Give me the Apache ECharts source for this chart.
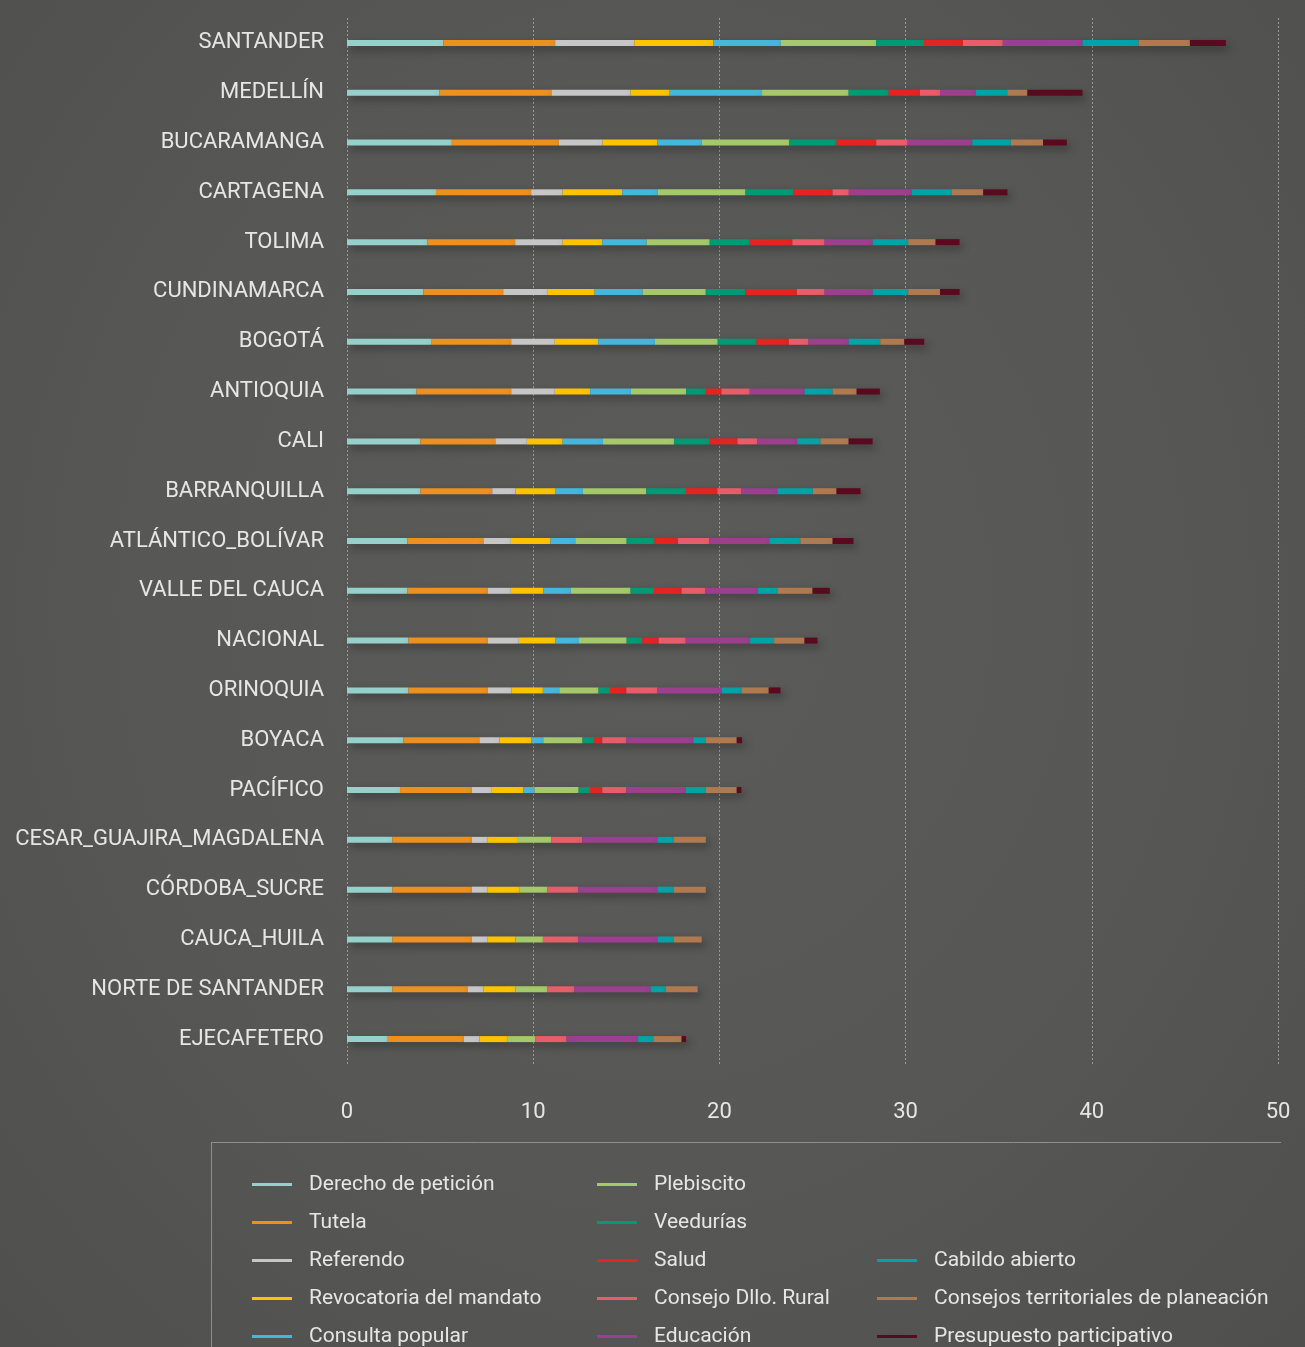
<!DOCTYPE html>
<html>
<head>
<meta charset="utf-8">
<script src="https://cdn.jsdelivr.net/npm/echarts@6/dist/echarts.min.js"></script>
<style>
html,body{margin:0;padding:0;}
body{background:radial-gradient(ellipse at 50% 45%, #5b5b5a 0%, #575756 55%, #4f4f4e 100%);}
#chart{width:1305px;height:1347px;}
</style>
</head>
<body>
<div id="chart"></div>
<script>
const categories = ["SANTANDER","MEDELLÍN","BUCARAMANGA","CARTAGENA","TOLIMA","CUNDINAMARCA","BOGOTÁ","ANTIOQUIA","CALI","BARRANQUILLA","ATLÁNTICO_BOLÍVAR","VALLE DEL CAUCA","NACIONAL","ORINOQUIA","BOYACA","PACÍFICO","CESAR_GUAJIRA_MAGDALENA","CÓRDOBA_SUCRE","CAUCA_HUILA","NORTE DE SANTANDER","EJECAFETERO"];

const seriesNames = ["Derecho de petición","Tutela","Referendo","Revocatoria del mandato","Consulta popular","Plebiscito","Veedurías","Salud","Consejo Dllo. Rural","Educación","Cabildo abierto","Consejos territoriales de planeación","Presupuesto participativo"];

const peticion    = [5.18,4.96,5.63,4.78,4.32,4.10,4.55,3.73,3.94,3.94,3.24,3.24,3.30,3.30,3.03,2.85,2.44,2.44,2.44,2.44,2.19];
const tutela      = [6.00,6.02,5.75,5.11,4.71,4.29,4.27,5.09,4.03,3.86,4.09,4.32,4.26,4.26,4.08,3.85,4.26,4.26,4.26,4.05,4.08];
const referendo   = [4.25,4.25,2.35,1.69,2.55,2.36,2.34,2.34,1.69,1.25,1.47,1.24,1.67,1.28,1.08,1.08,0.86,0.86,0.86,0.84,0.84];
const revocatoria = [4.25,2.10,2.94,3.20,2.13,2.55,2.33,1.90,1.92,2.15,2.13,1.74,1.97,1.68,1.72,1.70,1.62,1.72,1.49,1.72,1.49];
const consulta    = [3.62,4.96,2.38,1.90,2.38,2.58,3.05,2.19,2.17,1.47,1.33,1.48,1.26,0.88,0.63,0.59,0,0,0,0,0];
const plebiscito  = [5.12,4.65,4.70,4.72,3.39,3.39,3.37,2.96,3.81,3.39,2.76,3.21,2.56,2.11,2.11,2.37,1.79,1.47,1.47,1.70,1.52];
const veedurias   = [2.57,2.15,2.54,2.56,2.15,2.13,2.08,1.06,1.92,2.15,1.49,1.26,0.84,0.61,0.63,0.61,0,0,0,0,0];
const salud       = [2.09,1.68,2.13,2.12,2.29,2.76,1.74,0.84,1.49,1.68,1.27,1.48,0.88,0.88,0.43,0.66,0,0,0,0,0];
const rural       = [2.14,1.08,1.69,0.87,1.73,1.49,1.05,1.52,1.07,1.29,1.67,1.28,1.45,1.67,1.29,1.29,1.66,1.67,1.90,1.45,1.67];
const educacion   = [4.28,1.93,3.47,3.39,2.58,2.58,2.16,2.94,2.14,1.94,3.24,2.81,3.46,3.46,3.60,3.19,4.05,4.26,4.26,4.11,3.84];
const cabildo     = [3.01,1.68,2.07,2.15,1.91,1.91,1.70,1.51,1.25,1.90,1.66,1.06,1.29,1.05,0.68,1.09,0.88,0.88,0.86,0.80,0.82];
const territorial = [2.76,1.08,1.73,1.68,1.47,1.71,1.29,1.29,1.51,1.27,1.73,1.88,1.63,1.47,1.65,1.65,1.71,1.71,1.51,1.72,1.52];
const presupuesto = [1.93,2.96,1.28,1.30,1.29,1.05,1.07,1.25,1.29,1.29,1.12,0.93,0.70,0.63,0.29,0.25,0,0,0,0,0.24];

const xTicks = [0,10,20,30,40,50];

const seriesData = [peticion,tutela,referendo,revocatoria,consulta,plebiscito,veedurias,salud,rural,educacion,cabildo,territorial,presupuesto];
const colors = ["#96d0cb","#ec9020","#c6c6c6","#fdc300","#45b7dc","#a5c96a","#009a74","#e52421","#e95d6a","#9b3f8e","#00a4a7","#b07a50","#5a0a1e"];

const FONT = "Roboto";
const chart = echarts.init(document.getElementById('chart'), null, {renderer:'canvas'});

const legendBase = {
  type:'plain', orient:'vertical', icon:'rect', itemWidth:40, itemHeight:3, itemGap:17,
  padding:0, height:260,
  textStyle:{color:'#e6e6e6', fontSize:21, fontFamily:FONT, lineHeight:20, padding:[0,0,0,12]},
  selectedMode:false
};

chart.setOption({
  backgroundColor:'transparent',
  color: colors,
  animation:false,
  grid:{left:347, right:27, top:18, height:1046, containLabel:false},
  xAxis:{
    type:'value', min:xTicks[0], max:xTicks[xTicks.length-1], interval:10,
    axisLine:{show:false}, axisTick:{show:false},
    axisLabel:{color:'#e6e6e6', fontSize:22, fontFamily:FONT, margin:37},
    splitLine:{show:true, lineStyle:{color:'#9a9a9a', type:[2,2], width:1}}
  },
  yAxis:{
    type:'category', data:categories, inverse:true,
    axisLine:{show:false}, axisTick:{show:false},
    axisLabel:{color:'#e6e6e6', fontSize:22, fontFamily:FONT, margin:23}
  },
  legend:[
    Object.assign({}, legendBase, {left:252, top:1174, data:seriesNames.slice(0,5)}),
    Object.assign({}, legendBase, {left:597, top:1174, data:seriesNames.slice(5,10)}),
    Object.assign({}, legendBase, {left:877, top:1250, data:seriesNames.slice(10,13)})
  ],
  graphic:[
    {type:'line', shape:{x1:211, y1:1142.5, x2:1281, y2:1142.5}, style:{stroke:'#8e8e8e', lineWidth:1}},
    {type:'line', shape:{x1:211.5, y1:1142, x2:211.5, y2:1347}, style:{stroke:'#8e8e8e', lineWidth:1}}
  ],
  series: seriesNames.map((name,i)=>({
    name:name, type:'bar', stack:'total', barWidth:6,
    data: seriesData[i],
    itemStyle:{color:colors[i], shadowColor:'rgba(0,0,0,0.35)', shadowBlur:8, shadowOffsetX:3, shadowOffsetY:4}
  }))
});
</script>
</body>
</html>
